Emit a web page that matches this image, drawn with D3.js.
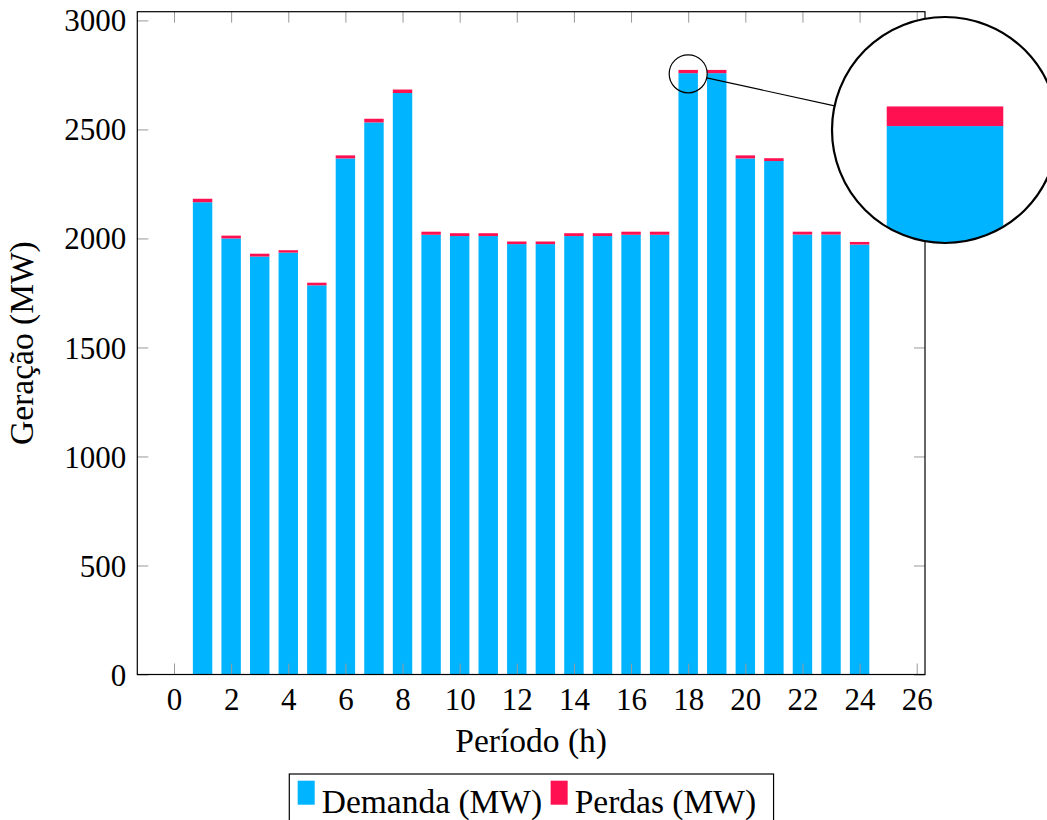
<!DOCTYPE html>
<html>
<head>
<meta charset="utf-8">
<script src="https://cdn.jsdelivr.net/npm/d3@7"></script>
<style>
  html, body { margin: 0; padding: 0; background: #fff; }
  svg { display: block; }
  text { font-family: "Liberation Serif", "Times New Roman", serif; fill: #000; }
</style>
</head>
<body>
<svg id="chart" width="1047" height="820"></svg>
<script>
// Hourly generation split into demand and losses
const periods = [1, 2, 3, 4, 5, 6, 7, 8, 9, 10, 11, 12, 13, 14, 15, 16, 17, 18, 19, 20, 21, 22, 23, 24];
const demanda = [2166, 2000, 1917, 1935, 1785, 2367, 2532, 2667, 2017, 2011, 2011, 1974,
                 1974, 2011, 2011, 2017, 2017, 2758, 2758, 2367, 2355, 2018, 2018, 1972];
const perdas  = [16, 13, 13, 11, 12, 14, 17, 16, 14, 13, 13, 12,
                 12, 13, 13, 14, 14, 15, 15, 14, 13, 13, 13, 12];
const xTicks = [0, 2, 4, 6, 8, 10, 12, 14, 16, 18, 20, 22, 24, 26];
const yTicks = [0, 500, 1000, 1500, 2000, 2500, 3000];
const seriesNames = ["Demanda (MW)", "Perdas (MW)"];
const colors = ["#00b4ff", "#ff1050"];

const svg = d3.select("#chart");
const plotLeft = 137.3, plotRight = 925, plotTop = 11.7, plotBottom = 674.5;
const labelSize = 33.5;

const x = d3.scaleLinear().domain([-1.285, 26.29]).range([plotLeft, plotRight]);
const y = d3.scaleLinear().domain([0, 3040]).range([plotBottom, plotTop]);
const barW = 0.68; // bar width in period units

const rows = periods.map((p, i) => ({ p, d: demanda[i], l: perdas[i] }));
const stack = d3.stack().keys(["d", "l"])(rows);

function drawBars(g) {
  g.selectAll("g.series")
    .data(stack)
    .join("g")
    .attr("class", "series")
    .attr("fill", (s, i) => colors[i])
    .selectAll("rect")
    .data(s => s)
    .join("rect")
    .attr("x", v => x(v.data.p - barW / 2))
    .attr("width", x(barW) - x(0))
    .attr("y", v => y(v[1]))
    .attr("height", v => y(v[0]) - y(v[1]));
}

// main bars
drawBars(svg.append("g"));

// axes: ticks drawn inside the frame on all four sides
const tickLen = 11;
const tickColor = "#999";

const axB = svg.append("g").attr("transform", `translate(0,${plotBottom})`)
  .call(d3.axisBottom(x).tickValues(xTicks).tickSize(-tickLen).tickPadding(14).tickFormat(d3.format("d")));
const axT = svg.append("g").attr("transform", `translate(0,${plotTop})`)
  .call(d3.axisTop(x).tickValues(xTicks).tickSize(-tickLen).tickFormat(""));
const axL = svg.append("g").attr("transform", `translate(${plotLeft},0)`)
  .call(d3.axisLeft(y).tickValues(yTicks).tickSize(-tickLen).tickPadding(11).tickFormat(d3.format("d")));
const axR = svg.append("g").attr("transform", `translate(${plotRight},0)`)
  .call(d3.axisRight(y).tickValues(yTicks).tickSize(-tickLen).tickFormat(""));

[axB, axT, axL, axR].forEach(a => {
  a.select(".domain").remove();
  a.selectAll(".tick line").attr("stroke", tickColor).attr("stroke-width", 1);
  a.selectAll("text").attr("font-family", "Liberation Serif").attr("font-size", 31).attr("fill", "#000");
});
axB.selectAll("text").attr("dy", "0.71em").attr("y", 13);
axL.selectAll("text").attr("dy", "0.34em");

// frame
svg.append("rect")
  .attr("x", plotLeft).attr("y", plotTop)
  .attr("width", plotRight - plotLeft).attr("height", plotBottom - plotTop)
  .attr("fill", "none").attr("stroke", "#000").attr("stroke-width", 1.2);

// axis titles
svg.append("text")
  .attr("x", (plotLeft + plotRight) / 2).attr("y", 752)
  .attr("text-anchor", "middle").attr("font-size", labelSize)
  .text("Período (h)");
svg.append("text")
  .attr("transform", `translate(33,${(plotTop + plotBottom) / 2}) rotate(-90)`)
  .attr("text-anchor", "middle").attr("font-size", labelSize)
  .text("Geração (MW)");

// magnifier on the peak hour
const focus = { px: 18, val: 2755 };
const cSmall = [x(focus.px), y(focus.val)];
const mag = 6;
const rSmall = 19;
const cBig = [945, 130];
const rBig = rSmall * mag - 1;

const dx = cBig[0] - cSmall[0], dy = cBig[1] - cSmall[1];
const dist = Math.hypot(dx, dy);
const ux = dx / dist, uy = dy / dist;
svg.append("line")
  .attr("x1", cSmall[0] + ux * rSmall).attr("y1", cSmall[1] + uy * rSmall)
  .attr("x2", cBig[0] - ux * rBig).attr("y2", cBig[1] - uy * rBig)
  .attr("stroke", "#000").attr("stroke-width", 1.1);

svg.append("circle")
  .attr("cx", cSmall[0]).attr("cy", cSmall[1]).attr("r", rSmall)
  .attr("fill", "none").attr("stroke", "#000").attr("stroke-width", 1.2);

svg.append("defs").append("clipPath").attr("id", "lens")
  .append("circle").attr("cx", cBig[0]).attr("cy", cBig[1]).attr("r", rBig);

svg.append("circle")
  .attr("cx", cBig[0]).attr("cy", cBig[1]).attr("r", rBig)
  .attr("fill", "#fff");

const lens = svg.append("g").attr("clip-path", "url(#lens)")
  .append("g")
  .attr("transform", `translate(${cBig[0]},${cBig[1]}) scale(${mag}) translate(${-cSmall[0]},${-cSmall[1]})`);
drawBars(lens);

svg.append("circle")
  .attr("cx", cBig[0]).attr("cy", cBig[1]).attr("r", rBig)
  .attr("fill", "none").attr("stroke", "#000").attr("stroke-width", 2.2);

// legend
const lg = svg.append("g");
const box = lg.append("rect")
  .attr("x", 289.3).attr("y", 774).attr("height", 70)
  .attr("fill", "#fff").attr("stroke", "#000").attr("stroke-width", 1.2);
let lx = 297.7;
seriesNames.forEach((name, i) => {
  lg.append("rect").attr("x", lx).attr("y", 780.7).attr("width", 17).attr("height", 24).attr("fill", colors[i]);
  const t = lg.append("text").attr("x", lx + 24).attr("y", 813).attr("font-size", labelSize).text(name);
  lx += 24 + t.node().getComputedTextLength() + 8.5;
});
box.attr("width", lx + 9 - 289.3);
</script>
</body>
</html>
